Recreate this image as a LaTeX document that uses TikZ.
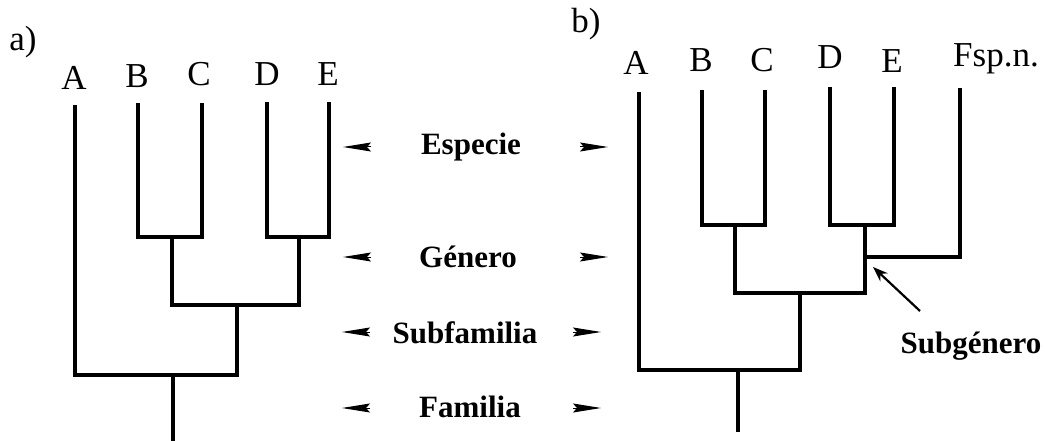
\documentclass[tikz,border=0pt]{standalone}
\usepackage{fontspec}
\setmainfont{Liberation Serif}
\usetikzlibrary{arrows.meta}

\tikzset{
	branch/.style={line width=3.2pt},
	taxon/.style={anchor=base, inner sep=0pt, font=\fontsize{35}{35}\selectfont},
	rank/.style={anchor=base, inner sep=0pt, font=\fontsize{31}{31}\selectfont\bfseries},
	rankarrow/.style={line width=1pt, -{Stealth[length=28pt,width=9pt,inset=4pt]}},
	pointer/.style={line width=2.2pt, -{Stealth[length=15pt,width=11pt]}},
}

\begin{document}
\begin{tikzpicture}[x=1pt, y=-1pt]
			%%%%% START %%%%%
			\useasboundingbox (0,0) rectangle (1045,441);
			
			% tree a)
			\node[taxon] (lbla) at (23,51) {a)};
			\node[taxon] (aA) at (74,90) {A};
			\node[taxon] (aB) at (137,88) {B};
			\node[taxon] (aC) at (199,86) {C};
			\node[taxon] (aD) at (267,86) {D};
			\node[taxon] (aE) at (328,86) {E};
			
			\coordinate (aAt) at (75,105);
			\coordinate (aBt) at (138,103);
			\coordinate (aCt) at (202,103);
			\coordinate (aDt) at (267,102);
			\coordinate (aEt) at (329,102);
			\coordinate (aBC) at (172,237);
			\coordinate (aDE) at (299,237);
			\coordinate (aBE) at (237,305);
			\coordinate (aR) at (173,375);
			\coordinate (aRoot) at (173,441);
			
			\draw[branch] (aBt) |- (aBC) -| (aCt);
			\draw[branch] (aDt) |- (aDE) -| (aEt);
			\draw[branch] (aBC) |- (aBE) -| (aDE);
			\draw[branch] (aAt) |- (aR) -| (aBE);
			\draw[branch] (aR) -- (aRoot);
			
			% ranks in the middle
			\node[rank] (esp) at (471,155) {Especie};
			\node[rank] (gen) at (468,267) {Género};
			\node[rank] (subf) at (465,343) {Subfamilia};
			\node[rank] (fam) at (470,417) {Familia};
			
			\coordinate (espL) at (371,147);
			\coordinate (espLt) at (343,147);
			\coordinate (espR) at (580,147);
			\coordinate (espRt) at (608,147);
			\coordinate (genL) at (371,257);
			\coordinate (genLt) at (343,257);
			\coordinate (genR) at (580,257);
			\coordinate (genRt) at (608,257);
			\coordinate (subfL) at (370,332);
			\coordinate (subfLt) at (342,332);
			\coordinate (subfR) at (573,332);
			\coordinate (subfRt) at (601,332);
			\coordinate (famL) at (370,408);
			\coordinate (famLt) at (342,408);
			\coordinate (famR) at (573,408);
			\coordinate (famRt) at (601,408);
			
			\draw[rankarrow] (espL) -- (espLt);
			\draw[rankarrow] (espR) -- (espRt);
			\draw[rankarrow] (genL) -- (genLt);
			\draw[rankarrow] (genR) -- (genRt);
			\draw[rankarrow] (subfL) -- (subfLt);
			\draw[rankarrow] (subfR) -- (subfRt);
			\draw[rankarrow] (famL) -- (famLt);
			\draw[rankarrow] (famR) -- (famRt);
			
			% tree b)
			\node[taxon] (lblb) at (586,33) {b)};
			\node[taxon] (bA) at (636,75) {A};
			\node[taxon] (bB) at (701,72) {B};
			\node[taxon] (bC) at (762,72) {C};
			\node[taxon] (bD) at (830,69) {D};
			\node[taxon] (bE) at (892,73) {E};
			\node[taxon] (bF) at (996,67) {Fsp.n.};
			
			\coordinate (bAt) at (639,92);
			\coordinate (bBt) at (702,90);
			\coordinate (bCt) at (765,90);
			\coordinate (bDt) at (830,87);
			\coordinate (bEt) at (894,87);
			\coordinate (bFt) at (960,88);
			\coordinate (bBC) at (735,225);
			\coordinate (bDE) at (865,225);
			\coordinate (bDF) at (865,257);
			\coordinate (bBF) at (800,293);
			\coordinate (bR) at (738,370);
			\coordinate (bRoot) at (738,432);
			
			\draw[branch] (bBt) |- (bBC) -| (bCt);
			\draw[branch] (bDt) |- (bDE) -| (bEt);
			\draw[branch] (bDE) -- (bDF) -| (bFt);
			\draw[branch] (bBC) |- (bBF) -| (bDF);
			\draw[branch] (bAt) |- (bR) -| (bBF);
			\draw[branch] (bR) -- (bRoot);
			
			\node[rank] (subg) at (971,353) {Subgénero};
			\coordinate (subgtail) at (920,311);
			\coordinate (subgtip) at (873,267);
			\draw[pointer] (subgtail) -- (subgtip);
			
			%%%%% END %%%%%
\end{tikzpicture}
\end{document}
